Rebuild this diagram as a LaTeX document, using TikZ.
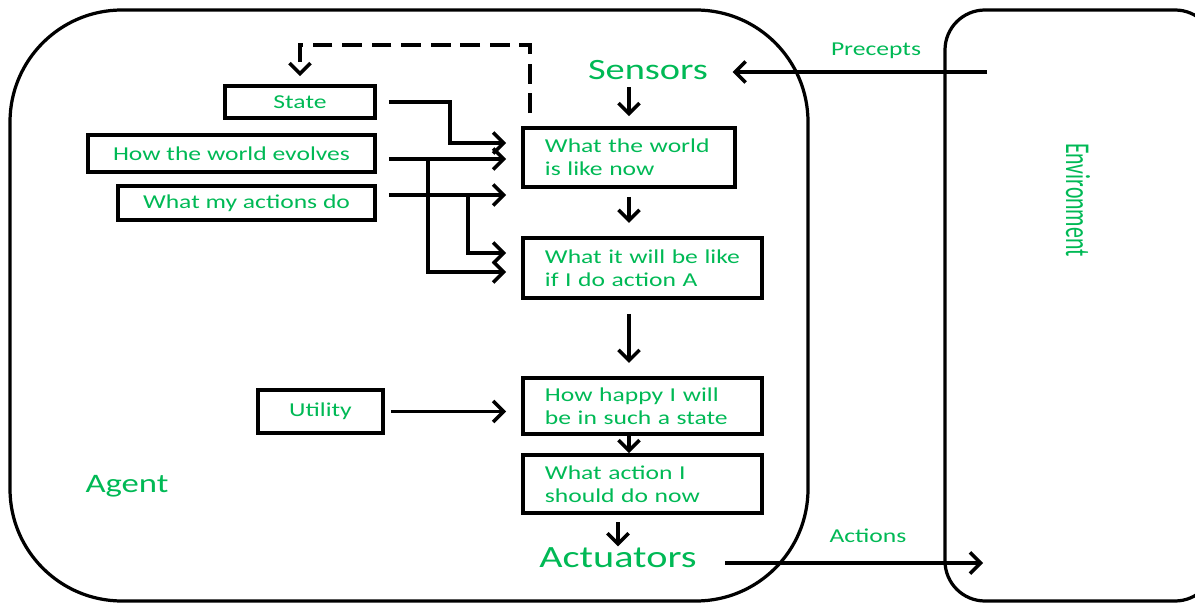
\documentclass[tikz,border=0pt]{standalone}
\usepackage{fontspec}
\setmainfont{Carlito}[FakeStretch=1.3]
\newfontfamily\envfont{Carlito}
\usetikzlibrary{arrows.meta,positioning}
\definecolor{agentgreen}{RGB}{0,185,85}
\tikzset{>={Straight Barb[length=7.5pt,width=15pt]}}
\tikzset{
  box/.style={draw, line width=2.6pt, text=agentgreen, font=\fontsize{14}{16.5}\selectfont, inner sep=0pt},
  lbox/.style={box, align=left, inner xsep=0.55cm},
  lbl/.style={text=agentgreen, inner sep=1pt},
  arr/.style={->, line width=2.5pt},
}

\begin{document}
\begin{tikzpicture}[x=0.025cm, y=-0.025cm]
\useasboundingbox (0,0) rectangle (1195,603);
\draw[line width=2.3pt, rounded corners=2.8cm] (10,10) rectangle (808,601);
\draw[line width=2.3pt, rounded corners=1cm] (945,10) rectangle (1215,601);

\node[box, minimum width=3.75cm, minimum height=0.8cm] (state) at (300,102) {State};
\node[box, minimum width=7.175cm, minimum height=0.925cm] (evolves) at (231.5,153.5) {How the world evolves};
\node[box, minimum width=6.425cm, minimum height=0.85cm] (actdo) at (246.5,203) {What my actions do};
\node[box, minimum width=3.125cm, minimum height=1.075cm] (utility) at (320.5,411.5) {Utility};
\node[lbox, text width=4.2cm, minimum height=1.475cm] (now) at (629,157.5) {What the world\\is like now};
\node[lbox, text width=4.875cm, minimum height=1.5cm] (willbe) at (642.5,268) {What it will be like\\if I do action A};
\node[lbox, text width=4.875cm, minimum height=1.4cm] (happy) at (642.5,406) {How happy I will\\be in such a state};
\node[lbox, text width=4.875cm, minimum height=1.45cm] (doact) at (642.5,484) {What action I\\should do now};

\node[lbl, font=\fontsize{21}{24}\selectfont] (sensors) at (648,70) {Sensors};
\node[lbl, font=\fontsize{22}{25}\selectfont] (actuators) at (618,558) {Actuators};
\node[lbl, font=\fontsize{19}{22}\selectfont] (agent) at (127,486) {Agent};
\node[lbl, font=\fontsize{14}{16}\selectfont] (precepts) at (876,51) {Precepts};
\node[lbl, font=\fontsize{14}{16}\selectfont] (actions) at (868,536) {Actions};
\node[lbl, rotate=-90, font=\envfont\fontsize{15.5}{18}\selectfont] (env) at (1078,200) {\scalebox{1}[1.6]{Environment}};

\coordinate (rowA) at (450,143);
\coordinate (rowB) at (428,272);
\coordinate (rowC) at (468,253);
\coordinate (yev) at (0,159);
\coordinate (yad) at (0,195);
\coordinate (top) at (530,45);
\coordinate (pin) at (987,72);
\coordinate (pout) at (983,563);

\draw[arr, dash pattern=on 14pt off 7pt, shorten <=0.325cm, shorten >=0.2cm] (now.north -| top) -- (top) -| (state.north);
\draw[arr, shorten <=0.3cm, shorten >=0.375cm] (state.east) -| (rowA) -- (rowA -| now.west);
\draw[arr, shorten <=0.3cm, shorten >=0.375cm] (evolves.east |- yev) -- (now.west |- yev);
\draw[arr, shorten >=0.375cm] (rowB |- yev) -- (rowB) -- (rowB -| willbe.west);
\draw[arr, shorten <=0.3cm, shorten >=0.375cm] (actdo.east |- yad) -- (now.west |- yad);
\draw[arr, shorten >=0.375cm] (rowC |- yad) -- (rowC) -- (rowC -| willbe.west);
\draw[arr, shorten <=0.15cm, shorten >=0.375cm] (utility.east) -- (utility.east -| happy.west);

\draw[arr, shorten <=0.15cm, shorten >=0.25cm] (sensors.south -| now) -- (now.north);
\draw[arr, shorten <=0.2cm, shorten >=0.33cm] (now.south) -- (now.south |- willbe.north);
\draw[arr, shorten <=0.35cm, shorten >=0.33cm] (willbe.south -| now) -- (happy.north -| now);
\draw[arr] (happy.south -| now) -- (doact.north -| now);
\draw[arr, shorten <=0.18cm] (doact.south -| actuators) -- (actuators.north);
\draw[arr, shorten >=0.575cm] (pin) -- (pin -| sensors.east);
\draw[arr, shorten <=0.675cm] (actuators.east |- pout) -- (pout);
\end{tikzpicture}
\end{document}
